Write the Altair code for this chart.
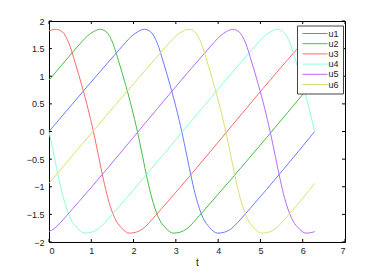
import altair as alt
import pandas as pd

series = ["u1", "u2", "u3", "u4", "u5", "u6"]
colors = ["#6b7cff", "#45bf45", "#ff6a6a", "#8dffd4", "#b96bff", "#d8e26c"]

t_u1 = [0, 1.66, 1.81, 1.96, 2.11, 2.26, 2.41, 2.56, 2.71, 2.86, 3.01, 3.14, 3.26, 3.38, 3.48, 3.64, 3.80, 3.99, 4.16, 4.31, 4.46, 4.61, 4.76, 6.283]
y_u1 = [0.0, 1.48, 1.61, 1.73, 1.81, 1.85, 1.80, 1.60, 1.24, 0.85, 0.42, 0.0, -0.44, -0.88, -1.20, -1.56, -1.74, -1.84, -1.82, -1.76, -1.65, -1.52, -1.39, 0.0]

t_u2 = [0, 0.61, 0.76, 0.91, 1.06, 1.21, 1.36, 1.51, 1.66, 1.81, 1.96, 2.09, 2.21, 2.33, 2.43, 2.59, 2.75, 2.94, 3.11, 3.26, 3.41, 3.56, 3.71, 6.283]
y_u2 = [0.93, 1.48, 1.61, 1.73, 1.81, 1.85, 1.80, 1.60, 1.24, 0.85, 0.42, 0.0, -0.44, -0.88, -1.20, -1.56, -1.74, -1.84, -1.82, -1.76, -1.65, -1.52, -1.39, 0.93]

t_u3 = [0, 0.17, 0.32, 0.47, 0.62, 0.77, 0.92, 1.05, 1.17, 1.29, 1.39, 1.55, 1.71, 1.90, 2.07, 2.22, 2.37, 2.52, 2.67, 5.85, 6.00, 6.15, 6.283]
y_u3 = [1.82, 1.85, 1.80, 1.60, 1.24, 0.85, 0.42, 0.0, -0.44, -0.88, -1.20, -1.56, -1.74, -1.84, -1.82, -1.76, -1.65, -1.52, -1.39, 1.48, 1.61, 1.73, 1.82]

t_u4 = [0, 0.12, 0.24, 0.34, 0.50, 0.66, 0.85, 1.02, 1.17, 1.32, 1.47, 1.62, 4.80, 4.95, 5.10, 5.25, 5.40, 5.55, 5.70, 5.85, 6.00, 6.15, 6.283]
y_u4 = [0.0, -0.44, -0.88, -1.20, -1.56, -1.74, -1.84, -1.82, -1.76, -1.65, -1.52, -1.39, 1.48, 1.61, 1.73, 1.81, 1.85, 1.80, 1.60, 1.24, 0.85, 0.42, 0.0]

t_u5 = [0, 0.12, 0.27, 0.42, 0.57, 3.75, 3.90, 4.05, 4.20, 4.35, 4.50, 4.65, 4.80, 4.95, 5.10, 5.23, 5.35, 5.47, 5.57, 5.73, 5.89, 6.08, 6.25, 6.283]
y_u5 = [-1.81, -1.76, -1.65, -1.52, -1.39, 1.48, 1.61, 1.73, 1.81, 1.85, 1.80, 1.60, 1.24, 0.85, 0.42, 0.0, -0.44, -0.88, -1.20, -1.56, -1.74, -1.84, -1.82, -1.81]

t_u6 = [0, 2.70, 2.85, 3.00, 3.15, 3.30, 3.45, 3.60, 3.75, 3.90, 4.05, 4.18, 4.30, 4.42, 4.52, 4.68, 4.84, 5.03, 5.20, 5.35, 5.50, 5.65, 5.80, 6.283]
y_u6 = [-0.94, 1.48, 1.61, 1.73, 1.81, 1.85, 1.80, 1.60, 1.24, 0.85, 0.42, 0.0, -0.44, -0.88, -1.20, -1.56, -1.74, -1.84, -1.82, -1.76, -1.65, -1.52, -1.39, -0.94]

x_ticks = [0, 1, 2, 3, 4, 5, 6, 7]
y_ticks = [-2, -1.5, -1, -0.5, 0, 0.5, 1, 1.5, 2]

all_t = [t_u1, t_u2, t_u3, t_u4, t_u5, t_u6]
all_y = [y_u1, y_u2, y_u3, y_u4, y_u5, y_u6]

rows = []
for name, ts, ys in zip(series, all_t, all_y):
    for i, (t, y) in enumerate(zip(ts, ys)):
        rows.append({"t": t, "u": y, "series": name, "i": i})
df = pd.DataFrame(rows)

FONT = "Liberation Sans"
xs = alt.Scale(domain=[0, 7], nice=False, zero=False)
ys_ = alt.Scale(domain=[-2, 2], nice=False, zero=False)

x_axis = alt.Axis(values=x_ticks, tickCount=8, title="t", format="~g",
                  domain=False, ticks=False, grid=False, labelOverlap=False,
                  labelPadding=4, titlePadding=2,
                  labelFontSize=9, titleFontSize=10,
                  titleFontWeight="normal", labelColor="#222",
                  titleColor="#222", labelFont=FONT, titleFont=FONT)
y_axis = alt.Axis(values=y_ticks, tickCount=9, title=None, format="~g",
                  domain=False, ticks=False, grid=False, labelOverlap=False,
                  labelPadding=5, labelFontSize=9, labelColor="#222",
                  labelFont=FONT)

lines = alt.Chart(df).mark_line(strokeWidth=1, interpolate="monotone").encode(
    x=alt.X("t:Q", scale=xs, axis=x_axis),
    y=alt.Y("u:Q", scale=ys_, axis=y_axis),
    color=alt.Color("series:N", scale=alt.Scale(domain=series, range=colors),
                    legend=alt.Legend(title=None, orient="none", legendX=248, legendY=4.5,
                                      symbolType="M-1,0H9", symbolSize=25,
                                      symbolStrokeWidth=1, labelOffset=19,
                                      labelFontSize=9, labelFont=FONT, labelColor="#222",
                                      fillColor="white", strokeColor="#444",
                                      padding=3.5, rowPadding=0.2, cornerRadius=0)),
    order="i:Q",
)

xt = pd.DataFrame({"t": x_ticks})
yt = pd.DataFrame({"u": y_ticks})

bottom_ticks = alt.Chart(xt).mark_rule(color="black", strokeWidth=1).encode(
    x=alt.X("t:Q", scale=xs), y=alt.datum(-2), y2=alt.datum(-1.945))
top_ticks = alt.Chart(xt).mark_rule(color="black", strokeWidth=1).encode(
    x=alt.X("t:Q", scale=xs), y=alt.datum(2), y2=alt.datum(1.945))
left_ticks = alt.Chart(yt).mark_rule(color="black", strokeWidth=1).encode(
    y=alt.Y("u:Q", scale=ys_), x=alt.datum(0), x2=alt.datum(0.07))
right_ticks = alt.Chart(yt).mark_rule(color="black", strokeWidth=1).encode(
    y=alt.Y("u:Q", scale=ys_), x=alt.datum(7), x2=alt.datum(6.93))

chart = alt.layer(lines, bottom_ticks, top_ticks, left_ticks, right_ticks).properties(
    width=296, height=221,
    autosize=alt.AutoSizeParams(type="none"),
    padding={"left": 41, "top": 13, "right": 10, "bottom": 30},
    background="white",
).configure_view(stroke="black", strokeWidth=1)

chart.save("out.html", embed_options={"renderer": "svg", "actions": False})
